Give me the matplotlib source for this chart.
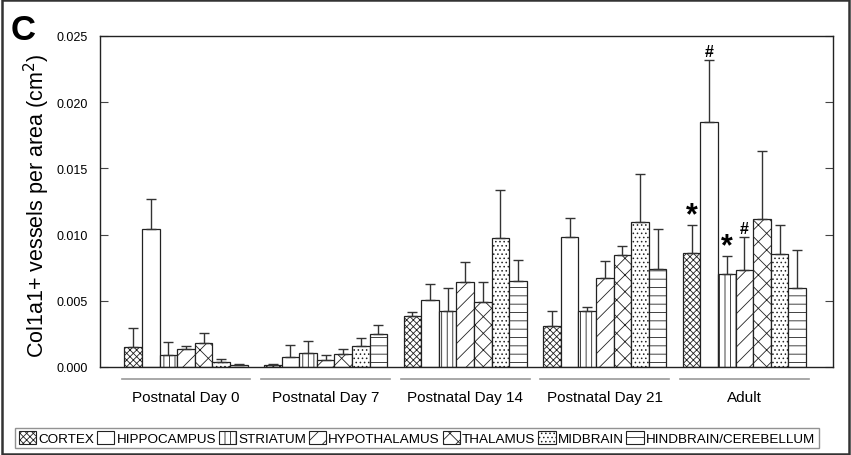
import numpy as np
import matplotlib
matplotlib.use("Agg")
import matplotlib.pyplot as plt
from matplotlib.patches import Rectangle, Patch
import matplotlib.transforms as mtransforms

plt.rcParams["font.family"] = ["Liberation Sans", "DejaVu Sans"]
plt.rcParams["hatch.linewidth"] = 0.6

GROUPS = ["Postnatal Day 0", "Postnatal Day 7", "Postnatal Day 14", "Postnatal Day 21", "Adult"]
REGIONS = ["CORTEX", "HIPPOCAMPUS", "STRIATUM", "HYPOTHALAMUS", "THALAMUS", "MIDBRAIN", "HINDBRAIN/CEREBELLUM"]
HATCHES = ["xxxxx", "", "|||", "//", "xx", "....", "--"]

# mean values per region, one entry per group
cortex = [0.00148, 0.00012, 0.00387, 0.00312, 0.00861]
hippocampus = [0.01042, 0.00078, 0.00503, 0.00984, 0.01850]
striatum = [0.00091, 0.00103, 0.00425, 0.00423, 0.00702]
hypothalamus = [0.00133, 0.00052, 0.00639, 0.00669, 0.00733]
thalamus = [0.00178, 0.00095, 0.00491, 0.00846, 0.01118]
midbrain = [0.00038, 0.00160, 0.00971, 0.01092, 0.00856]
hindbrain = [0.00015, 0.00250, 0.00652, 0.00742, 0.00597]

# upper error (SEM)
cortex_err = [0.00149, 0.00013, 0.00025, 0.00108, 0.00209]
hippocampus_err = [0.00229, 0.00085, 0.00121, 0.00138, 0.00470]
striatum_err = [0.00095, 0.00090, 0.00172, 0.00032, 0.00138]
hypothalamus_err = [0.00028, 0.00036, 0.00151, 0.00131, 0.00249]
thalamus_err = [0.00081, 0.00040, 0.00148, 0.00065, 0.00512]
midbrain_err = [0.00022, 0.00056, 0.00368, 0.00366, 0.00219]
hindbrain_err = [0.00010, 0.00067, 0.00158, 0.00298, 0.00289]

# significance marks on the adult group: (region index, symbol)
adult_marks = [(0, "*"), (1, "#"), (2, "*"), (3, "#")]

means = [cortex, hippocampus, striatum, hypothalamus, thalamus, midbrain, hindbrain]
errors = [cortex_err, hippocampus_err, striatum_err, hypothalamus_err, thalamus_err, midbrain_err, hindbrain_err]

fig = plt.figure(figsize=(8.51, 4.56), dpi=100)
ax = fig.add_axes([100 / 851, 1 - 368 / 456, 733 / 851, 331 / 456])

width = 0.126
x = np.arange(len(GROUPS))
n = len(REGIONS)

for i in range(n):
    pos = x + (i - (n - 1) / 2) * width
    vals = np.array(means[i])
    errs = np.array(errors[i])
    ax.bar(pos, vals, width, color="white", edgecolor="#222222", linewidth=0.9,
           hatch=HATCHES[i], label=REGIONS[i], zorder=2)
    ax.errorbar(pos, vals, yerr=[np.zeros_like(errs), errs], fmt="none",
                ecolor="#333333", elinewidth=1.0, capsize=3.5, capthick=1.0, zorder=3)

for idx, sym in adult_marks:
    px = x[-1] + (idx - (n - 1) / 2) * width
    top = means[idx][-1] + errors[idx][-1]
    if sym == "*":
        ax.text(px, top - 0.0004, sym, ha="center", va="bottom", fontsize=22, fontweight="bold")
    else:
        ax.text(px, top + 0.0001, sym, ha="center", va="bottom", fontsize=11.5, fontweight="bold")

ax.set_xlim(-0.616, 4.635)
ax.set_ylim(0, 0.025)
ax.set_yticks(np.arange(0, 0.0251, 0.005))
ax.yaxis.set_major_formatter(matplotlib.ticker.FormatStrFormatter("%.3f"))
ax.tick_params(axis="y", direction="in", length=6, width=0.8, labelsize=9,
               right=True, pad=9, color="#444444")
ax.set_xticks([])
for s in ax.spines.values():
    s.set_linewidth(1.0)
    s.set_color("#222222")

ax.set_ylabel("Col1a1+ vessels per area (cm$^2$)", fontsize=15.5)
ax.yaxis.set_label_coords(-0.066, 0.49)

# group label lines and names beneath the axis
trans = mtransforms.blended_transform_factory(ax.transData, ax.transAxes)
half = n / 2 * width
for gx, name in zip(x, GROUPS):
    ax.plot([gx - half - 0.02, gx + half + 0.02], [-0.036, -0.036], color="#999999",
            linewidth=1.2, transform=trans, clip_on=False)
    ax.text(gx, -0.068, name, transform=trans, ha="center", va="top", fontsize=11)

fig.text(23 / 851, 1 - 30 / 456, "C", fontsize=25, fontweight="bold", ha="center", va="center")

handles = [Patch(facecolor="white", edgecolor="#222222", hatch=h, linewidth=0.8) for h in HATCHES]
leg = fig.legend(handles, REGIONS, loc="center", bbox_to_anchor=(417 / 851, 1 - 439 / 456),
                 ncol=7, fontsize=9.7, handlelength=1.3, handleheight=1.1, handletextpad=0.15,
                 columnspacing=0.2, borderpad=0.25, borderaxespad=0, fancybox=False, frameon=True)
leg.get_frame().set_edgecolor("#777777")
leg.get_frame().set_linewidth(1.0)

fig.patches.append(Rectangle((0.002, 0.003), 0.996, 0.994, transform=fig.transFigure,
                             fill=False, edgecolor="#333333", linewidth=1.8))

fig.savefig("out.png", dpi=100)
